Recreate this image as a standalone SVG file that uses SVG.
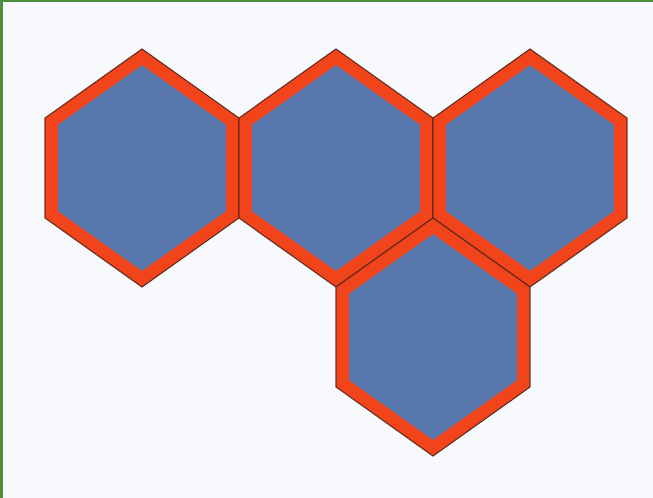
<svg xmlns="http://www.w3.org/2000/svg" xmlns:xlink="http://www.w3.org/1999/xlink" width="653" height="498" viewBox="0 0 653 498">
  <style>
    .rim { fill: #f1441a; stroke: #5e2a1c; stroke-width: 1.2; stroke-linejoin: miter; }
    .core { fill: #5878ad; }
  </style>
  <defs>
    <polygon id="hexOuter" points="0,-119 97,-50 97,50 0,119 -97,50 -97,-50"/>
    <polygon id="hexInner" points="0,-103 84,-43.3 84,43.3 0,103 -84,43.3 -84,-43.3"/>
  </defs>
  <rect x="0" y="0" width="653" height="498" fill="#f7f9fc"/>
  <rect x="0" y="0" width="653" height="2" fill="#4a8f3c"/>
  <rect x="0" y="0" width="3" height="498" fill="#4a8f3c"/>
  <g id="hex1">
    <use xlink:href="#hexOuter" href="#hexOuter" class="rim" x="142" y="168"/>
    <use xlink:href="#hexInner" href="#hexInner" class="core" x="142" y="168"/>
  </g>
  <g id="hex2">
    <use xlink:href="#hexOuter" href="#hexOuter" class="rim" x="336" y="168"/>
    <use xlink:href="#hexInner" href="#hexInner" class="core" x="336" y="168"/>
  </g>
  <g id="hex3">
    <use xlink:href="#hexOuter" href="#hexOuter" class="rim" x="530" y="168"/>
    <use xlink:href="#hexInner" href="#hexInner" class="core" x="530" y="168"/>
  </g>
  <g id="hex4">
    <use xlink:href="#hexOuter" href="#hexOuter" class="rim" x="433" y="337"/>
    <use xlink:href="#hexInner" href="#hexInner" class="core" x="433" y="337"/>
  </g>
  <g id="connectors"/>
</svg>
